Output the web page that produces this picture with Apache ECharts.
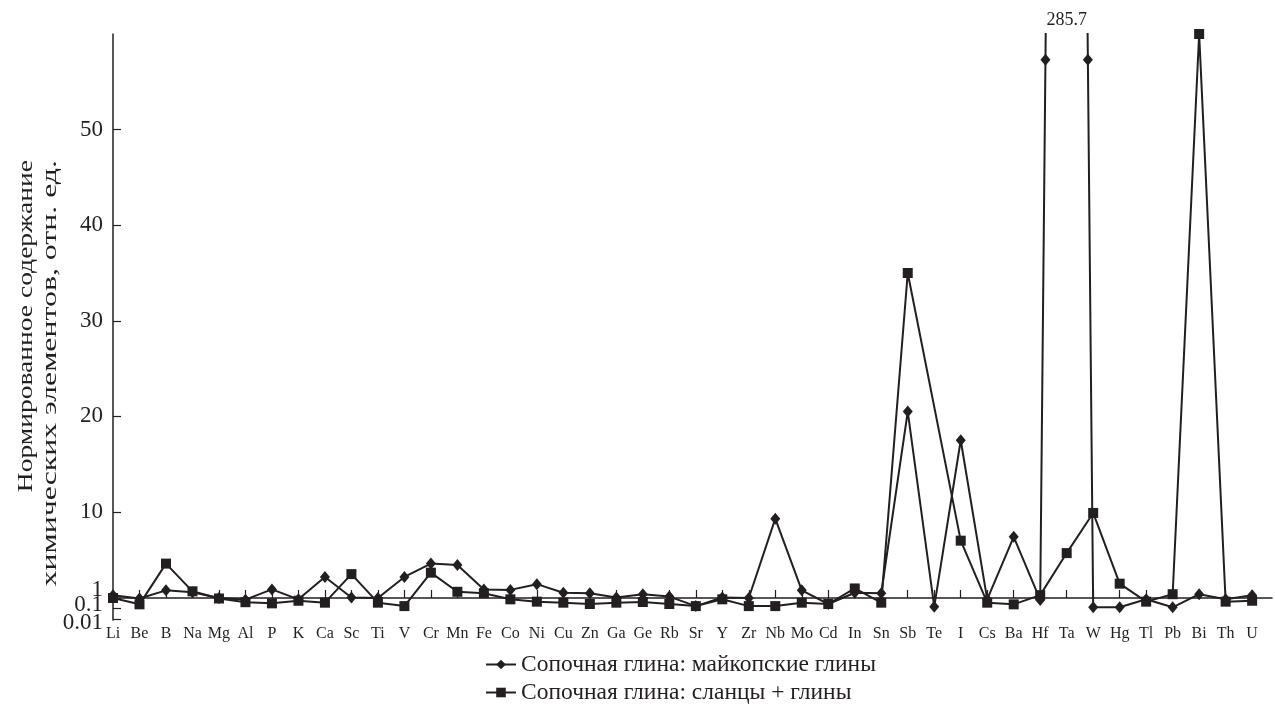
<!DOCTYPE html>
<html><head><meta charset="utf-8">
<script src="https://cdn.jsdelivr.net/npm/echarts@6/dist/echarts.min.js"></script>
<style>html,body{margin:0;padding:0;background:#fff}#chart{width:1275px;height:706px}</style>
</head><body><div id="chart"></div>
<script>
// ---- data ----
const categories = ['Li','Be','B','Na','Mg','Al','P','K','Ca','Sc','Ti','V','Cr','Mn','Fe','Co','Ni','Cu','Zn','Ga','Ge','Rb','Sr','Y','Zr','Nb','Mo','Cd','In','Sn','Sb','Te','I','Cs','Ba','Hf','Ta','W','Hg','Tl','Pb','Bi','Th','U'];
const maykopClays = [1.3,0.9,1.8,1.6,1.0,0.7,1.9,0.75,3.2,1.05,1.0,3.2,4.6,4.45,1.9,1.85,2.45,1.55,1.5,1.05,1.4,1.15,0.17,1.05,1.0,9.3,1.8,0.27,1.55,1.5,20.5,0.15,17.5,0.75,7.4,0.65,285.7,0.13,0.13,0.75,0.13,1.4,0.75,1.3];
const shalesClays = [1.0,0.25,4.6,1.7,0.9,0.4,0.31,0.55,0.36,3.5,0.36,0.17,3.65,1.65,1.5,0.75,0.45,0.36,0.27,0.36,0.42,0.27,0.17,0.75,0.17,0.17,0.36,0.27,2.0,0.36,35.0,null,7.0,0.36,0.25,1.3,5.7,9.9,2.5,0.45,1.4,60.0,0.45,0.55];
// axis-break marks drawn on the off-scale Ta segment of the first series
const breakSegments = [['Hf','Ta'], ['Ta','W']];
const breakValues = [57.3, 57.3];
const yTickValues = [0.01, 0.1, 1, 10, 20, 30, 40, 50];
const yTickLabels = ['0.01', '0.1', '1', '10', '20', '30', '40', '50'];
const yMaxValue = 60;
const seriesNames = ['Сопочная глина: майкопские глины', 'Сопочная глина: сланцы + глины'];
const yAxisTitleLines = ['Нормированное содержание', 'химических элементов, отн. ед.'];

// axis transform: linear above 1, log-compressed below 1 (as in the original figure)
const K = 1.1;
function toAxis(v) { return v >= 1 ? v - 1 : K * Math.log10(v); }
const yTickPos = yTickValues.map(toAxis);
const yMin = toAxis(0.01) - 0.1;
// the crowded low labels are nudged (in axis units) so they stack like the original
const labelNudge = {'1': 0.85, '0.1': 0.38, '0.01': 0};
const yLabelPos = yTickPos.map((p, i) => p + (labelNudge[yTickLabels[i]] || 0));
function pairs(arr) {
  const out = [];
  arr.forEach((v, i) => { if (v != null) out.push([i, toAxis(v)]); });
  return out;
}
// where the series segment between two categories crosses a given value
function crossing(arr, c0, c1, value) {
  const i0 = categories.indexOf(c0), i1 = categories.indexOf(c1);
  const a = toAxis(arr[i0]), b = toAxis(arr[i1]), t = (toAxis(value) - a) / (b - a);
  return [i0 + t * (i1 - i0), toAxis(value)];
}
const FONT = 'Liberation Serif';
const INK = '#231f20';
const taIndex = categories.indexOf('Ta');

const chart = echarts.init(document.getElementById('chart'), null, {renderer: 'canvas'});
chart.setOption({
  backgroundColor: '#fff',
  animation: false,
  textStyle: {fontFamily: FONT, color: INK},
  grid: {left: 113, width: 1159, top: 34, height: 586, containLabel: false},
  xAxis: {
    type: 'value', min: 0, max: 43.75,
    splitLine: {show: false},
    axisLine: {onZero: true, lineStyle: {color: INK, width: 1.5}},
    axisTick: {inside: true, length: 8, lineStyle: {color: INK, width: 1.2},
      customValues: categories.map((c, i) => i)},
    axisLabel: {customValues: categories.map((c, i) => i), formatter: v => categories[Math.round(v)],
      margin: 6, fontSize: 16, fontFamily: FONT, color: INK, showMinLabel: true, showMaxLabel: true,
      hideOverlap: false}
  },
  yAxis: {
    type: 'value', min: yMin, max: toAxis(yMaxValue),
    splitLine: {show: false},
    axisLine: {onZero: true, lineStyle: {color: INK, width: 1.5}},
    axisTick: {inside: true, length: 8, lineStyle: {color: INK, width: 1.2}, customValues: yTickPos},
    axisLabel: {customValues: [yMin].concat(yLabelPos), margin: 10, fontSize: 23, fontFamily: FONT, color: INK,
      hideOverlap: false, showMinLabel: true,
      formatter: v => {
        if (Math.abs(v - yMin) < 1e-6) return '';
        let best = 0;
        yLabelPos.forEach((p, i) => { if (Math.abs(p - v) < Math.abs(yLabelPos[best] - v)) best = i; });
        const t = yTickLabels[best];
        return t === '0.01' ? '{low|' + t + '}' : '{n|' + t + '}';
      },
      rich: {
        n: {fontSize: 23, fontFamily: FONT, color: INK, lineHeight: 9},
        low: {fontSize: 23, fontFamily: FONT, color: INK, lineHeight: 9, padding: [8, 0, 0, 0]}
      }}
  },
  legend: {
    orient: 'vertical', left: 485, top: 652, padding: 0, itemWidth: 30, itemHeight: 12, itemGap: 3,
    data: seriesNames,
    textStyle: {fontSize: 23.5, lineHeight: 25, fontFamily: FONT, color: INK}
  },
  graphic: [
    {
      type: 'text', x: 26, y: 160, rotation: Math.PI / 2, scaleX: 1.28,
      style: {text: yAxisTitleLines[0], fontSize: 21.5, fontFamily: FONT, fill: INK,
        align: 'right', verticalAlign: 'middle'}
    },
    {
      type: 'text', x: 50, y: 160, rotation: Math.PI / 2, scaleX: 1.48,
      style: {text: yAxisTitleLines[1], fontSize: 21.5, fontFamily: FONT, fill: INK,
        align: 'right', verticalAlign: 'middle'}
    }
  ],
  series: [
    {
      name: seriesNames[0], type: 'line', data: pairs(maykopClays),
      symbol: 'diamond', symbolSize: [10, 12],
      lineStyle: {color: INK, width: 2}, itemStyle: {color: INK},
      clip: true,
      markPoint: {
        symbol: 'circle', symbolSize: 0,
        data: [{coord: [taIndex, toAxis(yMaxValue)], value: maykopClays[taIndex]}],
        label: {show: true, position: 'top', distance: 5, formatter: p => String(p.value),
          fontSize: 18, fontFamily: FONT, color: INK}
      }
    },
    {
      name: seriesNames[1], type: 'line', data: pairs(shalesClays),
      symbol: 'rect', symbolSize: 10,
      lineStyle: {color: INK, width: 2}, itemStyle: {color: INK},
      clip: true
    },
    {
      name: 'break', type: 'scatter', silent: true,
      data: breakSegments.map((s, i) => crossing(maykopClays, s[0], s[1], breakValues[i])),
      symbol: 'diamond', symbolSize: [10, 12], itemStyle: {color: INK, opacity: 1}
    }
  ]
});
</script>
</body></html>
